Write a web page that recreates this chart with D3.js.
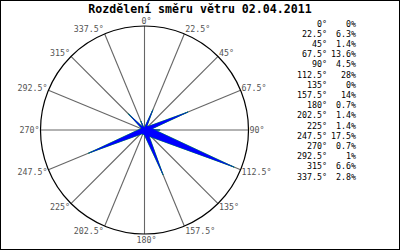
<!DOCTYPE html>
<html>
<head>
<meta charset="utf-8">
<script src="https://cdn.jsdelivr.net/npm/d3@7"></script>
<style>
  body { margin: 0; background: #fff; }
  text { font-family: "DejaVu Sans Mono", "Liberation Mono", monospace; }
</style>
</head>
<body>
<div id="chartArea"></div>
<script>
const svgWidth = 400;
const svgHeight = 250;

// data
const directions = [0, 22.5, 45, 67.5, 90, 112.5, 135, 157.5, 180, 202.5, 225, 247.5, 270, 292.5, 315, 337.5];
const percents = [0, 6.3, 1.4, 13.6, 4.5, 28, 0, 14, 0.7, 1.4, 1.4, 17.5, 0.7, 1, 6.6, 2.8];
const titleText = 'Rozdělení směru větru 02.04.2011';
const scaleMax = 30;

const cx = 144.5;
const cy = 130;
const radius = 104;

const canvas = d3.select('#chartArea')
  .append('svg')
  .attr('width', svgWidth)
  .attr('height', svgHeight);

canvas.append('rect')
  .attr('x', 0.5)
  .attr('y', 0.5)
  .attr('width', svgWidth - 1)
  .attr('height', svgHeight - 1)
  .attr('fill', '#fff')
  .attr('stroke', '#000');

canvas.append('text')
  .attr('x', 200)
  .attr('y', 13)
  .attr('text-anchor', 'middle')
  .attr('font-size', 11.6)
  .attr('font-weight', 'bold')
  .text(titleText);

const r = d3.scaleLinear().domain([0, scaleMax]).range([0, radius]);
const rad = d => d * Math.PI / 180;
const px = (deg, len) => cx + Math.sin(rad(deg)) * len;
const py = (deg, len) => cy - Math.cos(rad(deg)) * len;

const rose = canvas.append('g');

// spokes
rose.selectAll('line.spoke')
  .data(directions)
  .join('line')
  .attr('class', 'spoke')
  .attr('x1', cx)
  .attr('y1', cy)
  .attr('x2', d => px(d, radius))
  .attr('y2', d => py(d, radius))
  .attr('stroke', '#666')
  .attr('stroke-width', 1.1);

rose.append('circle')
  .attr('cx', cx)
  .attr('cy', cy)
  .attr('r', radius)
  .attr('fill', 'none')
  .attr('stroke', '#000')
  .attr('stroke-width', 1.2);

// petals: thin triangles from the centre
const petal = (deg, v) => {
  const len = r(v);
  const w = len * 0.045;
  const a = rad(deg);
  const nx = Math.cos(a), ny = Math.sin(a);
  return [
    [cx - nx * w, cy - ny * w],
    [px(deg, len), py(deg, len)],
    [cx + nx * w, cy + ny * w]
  ];
};
const petalData = directions.map((d, i) => ({ dir: d, v: percents[i] })).filter(p => p.v > 0);

rose.selectAll('polygon.edge')
  .data(petalData)
  .join('polygon')
  .attr('class', 'edge')
  .attr('points', p => petal(p.dir, p.v).join(' '))
  .attr('fill', '#00c800')
  .attr('stroke', '#00c800')
  .attr('stroke-width', 0.8);

rose.selectAll('polygon.petal')
  .data(petalData)
  .join('polygon')
  .attr('class', 'petal')
  .attr('points', p => petal(p.dir, p.v).join(' '))
  .attr('fill', '#0000ff')
  .attr('stroke', '#0000ff')
  .attr('stroke-width', 0.4);

// direction labels
rose.selectAll('text.dir')
  .data(directions)
  .join('text')
  .attr('class', 'dir')
  .attr('x', d => {
    const s = Math.sin(rad(d));
    return px(d, radius) + (s > 0.01 ? 1 : s < -0.01 ? -1 : 2);
  })
  .attr('y', d => py(d, radius) - 5.5 * Math.cos(rad(d)) + 3)
  .attr('text-anchor', d => {
    const s = Math.sin(rad(d));
    return s > 0.01 ? 'start' : s < -0.01 ? 'end' : 'middle';
  })
  .attr('font-size', 8.3)
  .attr('fill', '#555')
  .text(d => d + '°');

// legend
const legend = canvas.append('g');
const rowY = i => 26.5 + i * 10.2;

legend.selectAll('text.ldir')
  .data(directions)
  .join('text')
  .attr('class', 'ldir')
  .attr('x', 327)
  .attr('y', (d, i) => rowY(i))
  .attr('text-anchor', 'end')
  .attr('font-size', 8.3)
  .text(d => d + '°');

legend.selectAll('text.lval')
  .data(percents)
  .join('text')
  .attr('class', 'lval')
  .attr('x', 356)
  .attr('y', (d, i) => rowY(i))
  .attr('text-anchor', 'end')
  .attr('font-size', 8.3)
  .text(d => d + '%');
</script>
</body>
</html>
